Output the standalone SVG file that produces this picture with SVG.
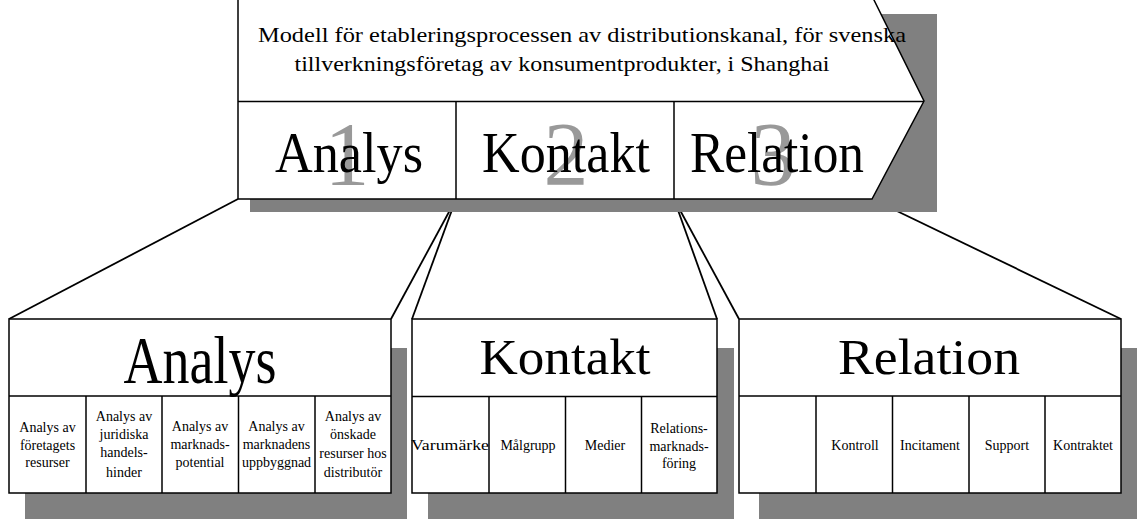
<svg xmlns="http://www.w3.org/2000/svg" width="1137" height="519" viewBox="0 0 1137 519">
<style>
.sh{fill:#808080;stroke:none}
.bx{fill:#fff;stroke:#000;stroke-width:1.5}
.ln{stroke:#000;stroke-width:1.5;fill:none}
.cn{stroke:#000;stroke-width:1.8;fill:none}
text{font-family:"Liberation Serif","Times New Roman",serif;fill:#000}
.s{font-size:14px;text-anchor:middle}
.big{font-size:56px;text-anchor:middle}
.dig{font-size:90px;text-anchor:middle;fill:#999}
.ttl{font-size:51px;text-anchor:middle}
.hd{font-size:22px;text-anchor:middle}
</style>
<rect width="1137" height="519" fill="#fff"/>
<g id="connectors">
<line class="cn" x1="238" y1="199" x2="9" y2="319"/>
<line class="cn" x1="456" y1="199" x2="391" y2="319"/>
<line class="cn" x1="456" y1="199" x2="412" y2="319"/>
<line class="cn" x1="674" y1="199" x2="717" y2="319"/>
<line class="cn" x1="674" y1="199" x2="739" y2="319"/>
<line class="cn" x1="872" y1="199" x2="1121" y2="319"/>
</g>
<g id="modell">
<rect class="sh" x="250" y="14" width="687" height="198"/>
<polygon class="bx" points="238,-2 873,-2 924,101 872,199 238,199"/>
<line class="ln" x1="238" y1="101.5" x2="924" y2="101.5"/>
<line class="ln" x1="456" y1="101.5" x2="456" y2="199"/>
<line class="ln" x1="674" y1="101.5" x2="674" y2="199"/>
<text class="hd" x="582" y="42" textLength="648" lengthAdjust="spacingAndGlyphs">Modell för etableringsprocessen av distributionskanal, för svenska</text>
<text class="hd" x="562" y="71" textLength="535" lengthAdjust="spacingAndGlyphs">tillverkningsföretag av konsumentprodukter, i Shanghai</text>
<text class="dig" x="347" y="185">1</text>
<text class="dig" x="566" y="185">2</text>
<text class="dig" x="773" y="185">3</text>
<text class="big" x="349" y="172" textLength="148" lengthAdjust="spacingAndGlyphs">Analys</text>
<text class="big" x="566" y="172" textLength="168" lengthAdjust="spacingAndGlyphs">Kontakt</text>
<text class="big" x="777" y="172" textLength="174" lengthAdjust="spacingAndGlyphs">Relation</text>
</g>
<g id="analys">
<rect class="sh" x="25" y="348" width="382" height="171"/>
<rect class="bx" x="9" y="319" width="382" height="174"/>
<line class="ln" x1="9" y1="396" x2="391" y2="396"/>
<line class="ln" x1="86" y1="396" x2="86" y2="493"/>
<line class="ln" x1="162" y1="396" x2="162" y2="493"/>
<line class="ln" x1="238.5" y1="396" x2="238.5" y2="493"/>
<line class="ln" x1="315" y1="396" x2="315" y2="493"/>
<text style="font-size:68px;text-anchor:middle" x="200" y="383" textLength="153" lengthAdjust="spacingAndGlyphs">Analys</text>
<text class="s" x="47.5"><tspan x="47.5" y="432">Analys av</tspan><tspan x="47.5" y="449.5">företagets</tspan><tspan x="47.5" y="467">resurser</tspan></text>
<text class="s" x="124"><tspan x="124" y="421">Analys av</tspan><tspan x="124" y="439">juridiska</tspan><tspan x="124" y="457">handels-</tspan><tspan x="124" y="476.5">hinder</tspan></text>
<text class="s" x="200"><tspan x="200" y="431">Analys av</tspan><tspan x="200" y="448.5">marknads-</tspan><tspan x="200" y="466.5">potential</tspan></text>
<text class="s" x="276.5"><tspan x="276.5" y="431">Analys av</tspan><tspan x="276.5" y="448.5">marknadens</tspan><tspan x="276.5" y="466.5">uppbyggnad</tspan></text>
<text class="s" x="353"><tspan x="353" y="421">Analys av</tspan><tspan x="353" y="439">önskade</tspan><tspan x="353" y="458">resurser hos</tspan><tspan x="353" y="476.5">distributör</tspan></text>
</g>
<g id="kontakt">
<rect class="sh" x="428" y="348" width="306" height="171"/>
<rect class="bx" x="412" y="319" width="305" height="174"/>
<line class="ln" x1="412" y1="396.5" x2="717" y2="396.5"/>
<line class="ln" x1="489" y1="396.5" x2="489" y2="493"/>
<line class="ln" x1="565.5" y1="396.5" x2="565.5" y2="493"/>
<line class="ln" x1="641.5" y1="396.5" x2="641.5" y2="493"/>
<text class="ttl" x="565" y="374" textLength="171" lengthAdjust="spacingAndGlyphs">Kontakt</text>
<text class="s" x="450" y="450" textLength="78" lengthAdjust="spacingAndGlyphs">Varumärke</text>
<text class="s" x="528" y="450">Målgrupp</text>
<text class="s" x="605" y="450">Medier</text>
<text class="s" x="679"><tspan x="679" y="433">Relations-</tspan><tspan x="679" y="450.5">marknads-</tspan><tspan x="679" y="468">föring</tspan></text>
</g>
<g id="relation">
<rect class="sh" x="759" y="348" width="378" height="171"/>
<rect class="bx" x="739" y="319" width="382" height="174"/>
<line class="ln" x1="739" y1="396" x2="1121" y2="396"/>
<line class="ln" x1="816" y1="396" x2="816" y2="493"/>
<line class="ln" x1="892.5" y1="396" x2="892.5" y2="493"/>
<line class="ln" x1="969" y1="396" x2="969" y2="493"/>
<line class="ln" x1="1045" y1="396" x2="1045" y2="493"/>
<text class="ttl" x="929" y="374" textLength="182" lengthAdjust="spacingAndGlyphs">Relation</text>
<text class="s" x="855" y="450">Kontroll</text>
<text class="s" x="930" y="450">Incitament</text>
<text class="s" x="1007" y="450">Support</text>
<text class="s" x="1083" y="450">Kontraktet</text>
</g>
</svg>
